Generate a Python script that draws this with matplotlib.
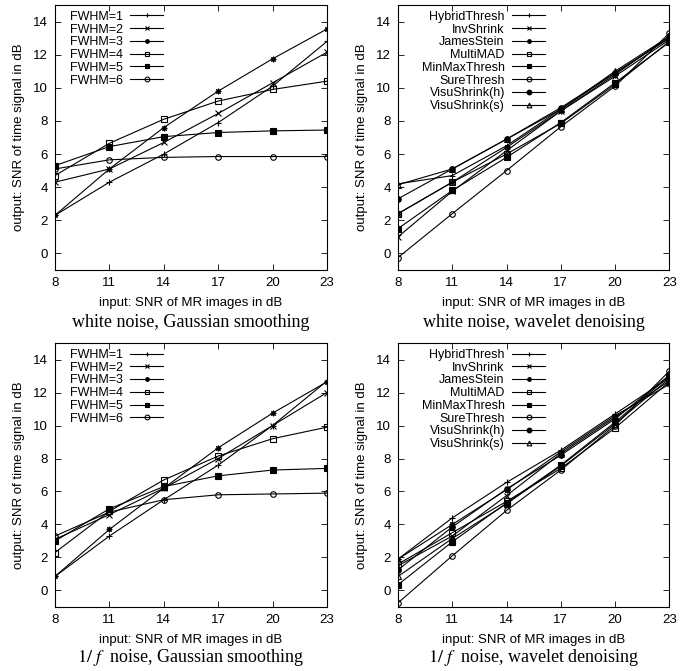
import numpy as np
import matplotlib
matplotlib.use('Agg')
import matplotlib.pyplot as plt

plt.rcParams['font.family'] = ['Liberation Sans', 'DejaVu Sans']
plt.rcParams['mathtext.fontset'] = 'stix'

# x-Achse: SNR der MR-Bilder in dB
snr_in = [8, 11, 14, 17, 20, 23]

# Gauss-Glaettung, weisses Rauschen
fwhm_labels = ['FWHM=1', 'FWHM=2', 'FWHM=3', 'FWHM=4', 'FWHM=5', 'FWHM=6']
white_gauss = [
    [2.3, 4.3, 6.0, 7.9, 10.1, 12.8],
    [4.3, 5.1, 6.7, 8.45, 10.3, 12.15],
    [2.3, 5.1, 7.6, 9.8, 11.75, 13.55],
    [4.7, 6.65, 8.1, 9.2, 9.9, 10.4],
    [5.3, 6.45, 7.05, 7.3, 7.4, 7.45],
    [5.1, 5.65, 5.8, 5.85, 5.85, 5.85],
]

# Gauss-Glaettung, 1/f Rauschen
pink_gauss = [
    [0.85, 3.3, 5.5, 7.6, 10.0, 12.7],
    [3.1, 4.6, 6.2, 8.0, 10.0, 12.0],
    [0.85, 3.7, 6.2, 8.65, 10.75, 12.65],
    [2.3, 4.8, 6.7, 8.15, 9.2, 9.9],
    [3.0, 4.95, 6.3, 6.95, 7.3, 7.4],
    [3.3, 4.75, 5.5, 5.8, 5.85, 5.9],
]

# Wavelet-Entrauschung
wave_labels = ['HybridThresh', 'InvShrink', 'JamesStein', 'MultiMAD',
               'MinMaxThresh', 'SureThresh', 'VisuShrink(h)', 'VisuShrink(s)']
white_wave = [
    [4.2, 4.7, 6.5, 8.7, 10.9, 13.0],
    [1.0, 3.75, 6.2, 8.6, 10.7, 12.9],
    [2.4, 4.3, 6.4, 8.6, 10.8, 13.1],
    [2.4, 4.3, 6.0, 7.85, 10.2, 12.8],
    [1.5, 3.8, 5.8, 7.9, 10.3, 12.75],
    [-0.25, 2.4, 5.0, 7.65, 10.1, 13.3],
    [3.3, 5.1, 6.9, 8.8, 10.9, 13.0],
    [4.15, 5.1, 6.9, 8.7, 11.0, 13.1],
]
pink_wave = [
    [1.9, 4.4, 6.55, 8.5, 10.7, 12.9],
    [1.5, 3.3, 5.75, 8.3, 10.5, 12.7],
    [1.9, 4.0, 6.1, 8.4, 10.6, 12.5],
    [1.6, 3.5, 5.4, 7.4, 9.85, 12.65],
    [0.35, 2.95, 5.3, 7.6, 10.2, 13.0],
    [-0.75, 2.1, 4.85, 7.3, 10.0, 13.3],
    [1.25, 3.85, 6.15, 8.2, 10.4, 13.05],
    [0.85, 3.15, 5.25, 7.55, 10.1, 12.85],
]

gauss_markers = [('+', 'k'), ('x', 'k'), ((8, 2, 0), 'k'), ('s', 'none'), ('s', 'k'), ('o', 'none')]
wave_markers = gauss_markers + [('o', 'k'), ('^', 'none')]

captions = ['white noise, Gaussian smoothing', 'white noise, wavelet denoising',
            r'$1/\ f\ $ noise, Gaussian smoothing', r'$1/\ f\ $ noise, wavelet denoising']

fig = plt.figure(figsize=(6.87, 6.71), dpi=100)

panels = [
    (white_gauss, fwhm_labels, gauss_markers, [0.080, 0.5976, 0.396, 0.395], 0.41),
    (white_wave, wave_labels, wave_markers, [0.5793, 0.5976, 0.395, 0.395], 0.555),
    (pink_gauss, fwhm_labels, gauss_markers, [0.080, 0.0954, 0.396, 0.3934], 0.41),
    (pink_wave, wave_labels, wave_markers, [0.5793, 0.0954, 0.395, 0.3934], 0.555),
]

for i, (series, labels, markers, pos, leg_x) in enumerate(panels):
    ax = fig.add_axes(pos)
    for vals, lab, (m, fc) in zip(series, labels, markers):
        ax.plot(snr_in, vals, color='k', lw=0.8, marker=m, ms=4,
                mfc=fc, mec='k', mew=0.8, label=lab)
    ax.set_xlim(8, 23)
    ax.set_ylim(-1, 15)
    ax.set_xticks(snr_in)
    ax.set_yticks(np.arange(0, 15, 2))
    ax.tick_params(direction='in', top=True, right=True, labelsize=9.5,
                   length=4, width=0.6, pad=5)
    for s in ax.spines.values():
        s.set_linewidth(0.8)
    ax.set_xlabel('input: SNR of MR images in dB', fontsize=9.5, labelpad=6)
    ax.set_ylabel('output: SNR of time signal in dB', fontsize=9.5, labelpad=6)
    leg = ax.legend(loc='upper right', bbox_to_anchor=(leg_x, 0.992), frameon=False,
                    markerfirst=False, fontsize=9, handlelength=2.6,
                    handletextpad=0.6, labelspacing=0.06, borderpad=0.3,
                    borderaxespad=0.0, markerscale=0.85)
    cx = pos[0] + pos[2] / 2
    cy = 0.52 if i < 2 else 0.02
    fig.text(cx, cy, captions[i], ha='center', va='center', fontsize=13,
             family=['Liberation Serif', 'DejaVu Serif'])

fig.savefig('out.png', dpi=100)
